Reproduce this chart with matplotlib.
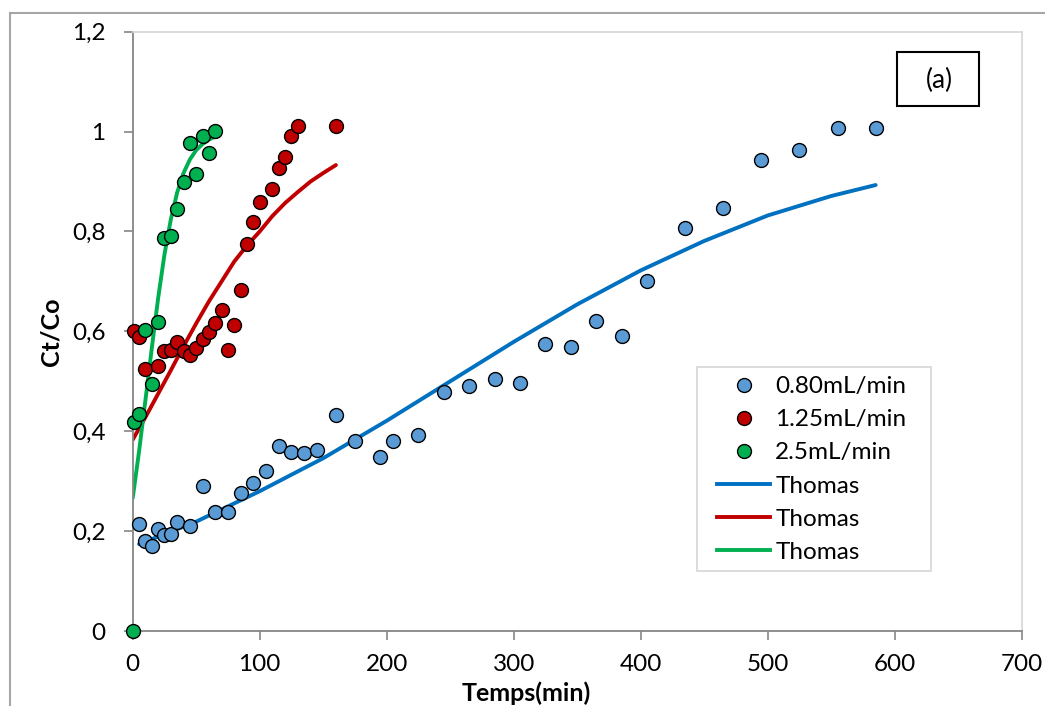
import matplotlib
matplotlib.use("Agg")
import matplotlib.pyplot as plt
from matplotlib.lines import Line2D
from matplotlib.patches import Rectangle

plt.rcParams['font.family'] = ['Lato', 'DejaVu Sans']

# measured points, Ct/Co vs time (min)
t_080 = [5, 10, 15, 20, 25, 30, 35, 45, 55, 65, 75, 85, 95, 105, 115, 125, 135, 145,
         160, 175, 195, 205, 225, 245, 265, 285, 305, 325, 345, 365, 385, 405, 435,
         465, 495, 525, 555, 585]
c_080 = [0.215, 0.180, 0.170, 0.204, 0.192, 0.194, 0.219, 0.210, 0.291, 0.238, 0.238,
         0.277, 0.297, 0.320, 0.371, 0.359, 0.356, 0.362, 0.432, 0.380, 0.349, 0.380,
         0.393, 0.478, 0.490, 0.504, 0.496, 0.575, 0.569, 0.621, 0.590, 0.701, 0.806,
         0.846, 0.943, 0.963, 1.007, 1.007]

t_125 = [1, 5, 10, 20, 25, 30, 35, 40, 45, 50, 55, 60, 65, 70, 75, 80, 85, 90, 95, 100,
         110, 115, 120, 125, 130, 160]
c_125 = [0.600, 0.588, 0.524, 0.531, 0.561, 0.563, 0.578, 0.560, 0.553, 0.567, 0.585,
         0.599, 0.617, 0.643, 0.562, 0.613, 0.682, 0.774, 0.819, 0.860, 0.885, 0.927,
         0.949, 0.991, 1.012, 1.012]

t_25 = [0, 1, 5, 10, 15, 20, 25, 30, 35, 40, 45, 50, 55, 60, 65]
c_25 = [0.0, 0.419, 0.435, 0.603, 0.495, 0.619, 0.787, 0.790, 0.844, 0.900, 0.977,
        0.916, 0.992, 0.958, 1.002]

# Thomas model curves
th_t_080 = [5, 50, 100, 150, 200, 250, 300, 350, 400, 450, 500, 550, 585]
th_c_080 = [0.174, 0.219, 0.280, 0.346, 0.421, 0.500, 0.579, 0.654, 0.722, 0.781,
            0.832, 0.871, 0.893]
th_t_125 = [0, 10, 20, 30, 40, 50, 60, 70, 80, 90, 100, 110, 120, 130, 140, 150, 160]
th_c_125 = [0.383, 0.428, 0.475, 0.522, 0.570, 0.616, 0.660, 0.700, 0.740, 0.772,
            0.800, 0.831, 0.857, 0.879, 0.900, 0.917, 0.933]
th_t_25 = [0, 5, 10, 15, 20, 25, 30, 35, 40, 45, 50, 55, 60, 65]
th_c_25 = [0.266, 0.360, 0.462, 0.566, 0.666, 0.754, 0.824, 0.878, 0.917, 0.944,
           0.963, 0.975, 0.984, 0.990]

yticks = [0, 0.2, 0.4, 0.6, 0.8, 1.0, 1.2]
ytick_labels = ['0', '0,2', '0,4', '0,6', '0,8', '1', '1,2']
xticks = [0, 100, 200, 300, 400, 500, 600, 700]

labels = ['0.80mL/min', '1.25mL/min', '2.5mL/min', 'Thomas', 'Thomas', 'Thomas']
mk_colors = ['#5b9bd5', '#c00000', '#00b050']
ln_colors = ['#0070c0', '#c00000', '#00b050']

W, H = 1045, 706
fig = plt.figure(figsize=(10.45, 7.06), dpi=100)
ax = fig.add_axes([0.127, 0.1062, 0.8507, 0.8489])

lw = 2.8
ax.plot(th_t_080, th_c_080, color=ln_colors[0], lw=lw, zorder=2, solid_capstyle='round')
ax.plot(th_t_125, th_c_125, color=ln_colors[1], lw=lw, zorder=2, solid_capstyle='round')
ax.plot(th_t_25, th_c_25, color=ln_colors[2], lw=lw, zorder=2, solid_capstyle='round')

mk = dict(marker='o', linestyle='none', markersize=10, markeredgecolor='black',
          markeredgewidth=1.0, zorder=3, clip_on=False)
ax.plot(t_080, c_080, markerfacecolor=mk_colors[0], **mk)
ax.plot(t_125, c_125, markerfacecolor=mk_colors[1], **mk)
ax.plot(t_25, c_25, markerfacecolor=mk_colors[2], **mk)

ax.set_xlim(0, 700)
ax.set_ylim(0, 1.2)
ax.set_xticks(xticks)
ax.set_xticklabels([str(x) for x in xticks])
ax.set_yticks(yticks)
ax.set_yticklabels(ytick_labels)
ax.tick_params(axis='both', labelsize=17.5, colors='#868686', labelcolor='black',
               direction='out', length=6.5, width=1.2)
ax.tick_params(axis='y', pad=13)
ax.tick_params(axis='x', pad=10)

for s in ['left', 'bottom']:
    ax.spines[s].set_color('#868686')
    ax.spines[s].set_linewidth(1.3)
for s in ['top', 'right']:
    ax.spines[s].set_color('#d9d9d9')
    ax.spines[s].set_linewidth(1.3)

ax.set_xlabel('Temps(min)', fontsize=18, fontweight='bold')
ax.xaxis.set_label_coords(0.4425, -0.084)
ax.set_ylabel('Ct/Co', fontsize=18, fontweight='bold')
ax.yaxis.set_label_coords(-0.079, 0.5)

handles = []
for c in mk_colors:
    handles.append(Line2D([], [], marker='o', linestyle='none', markersize=10,
                          markerfacecolor=c, markeredgecolor='black', markeredgewidth=1.0))
for c in ln_colors:
    handles.append(Line2D([], [], color=c, lw=lw))
leg = ax.legend(handles, labels, loc='upper left', bbox_to_anchor=(717 / W, 1 - 376 / H),
                bbox_transform=fig.transFigure, fontsize=17.5, frameon=False,
                handlelength=2.2, handletextpad=0.2, labelspacing=0.5,
                borderpad=0, borderaxespad=0)

# legend frame
fig.patches.append(Rectangle((697 / W, 1 - 571 / H), 234 / W, 204 / H,
                             transform=fig.transFigure, fill=False, ec='#d9d9d9', lw=1.3))

# (a) tag box
fig.patches.append(Rectangle((897 / W, 1 - 105.7 / H), 82 / W, 54 / H,
                             transform=fig.transFigure, fill=False, ec='black', lw=1.5))
fig.text(939 / W, 1 - 80 / H, '(a)', ha='center', va='center', fontsize=19)

# outer chart frame
fig.patches.append(Rectangle((10 / W, -0.1), 1.2, 1 - 13.3 / H + 0.1,
                             transform=fig.transFigure, fill=False, ec='#a6a6a6', lw=1.5))

fig.savefig('out.png', dpi=100)
